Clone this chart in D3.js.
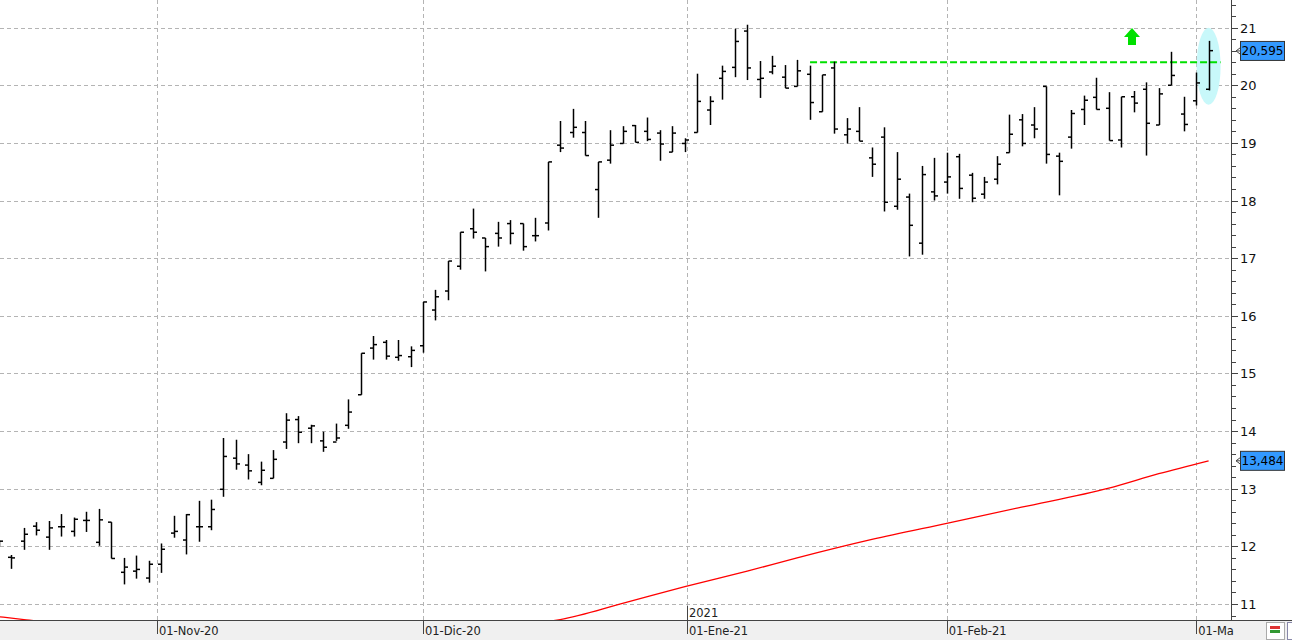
<!DOCTYPE html>
<html><head><meta charset="utf-8">
<script src="https://cdn.jsdelivr.net/npm/d3@7"></script>
<style>body{margin:0;background:#fff}svg{display:block;font-family:"DejaVu Sans",sans-serif}</style>
</head><body><svg id="c" width="1292" height="640"></svg>
<script>
const opens=[12.09,11.81,12.09,12.35,12.16,12.34,12.26,12.45,12.07,12.42,11.55,11.57,11.45,11.69,12.23,12.11,12.34,12.34,12.99,13.53,13.41,13.11,13.18,13.81,14.20,14.05,13.83,13.81,14.10,14.63,15.44,15.54,15.28,15.29,15.48,16.10,16.43,16.86,17.51,17.35,17.43,17.60,17.60,17.39,17.61,18.96,19.18,19.18,18.19,18.70,18.99,19.30,19.20,19.17,18.84,18.99,19.18,19.57,20.12,20.31,20.94,20.10,20.23,20.14,19.98,20.19,19.54,20.30,19.14,19.20,18.74,19.10,17.90,18.06,17.26,18.15,18.32,18.76,18.44,18.11,18.37,18.83,19.40,19.31,19.98,18.77,19.10,19.58,19.79,19.60,19.05,19.80,19.93,19.31,20.00,19.50,19.73,19.93];
const highs=[12.10,11.85,12.32,12.42,12.44,12.56,12.50,12.60,12.65,12.42,11.80,11.84,11.75,12.05,12.53,12.56,12.79,12.81,13.88,13.85,13.60,13.47,13.67,14.31,14.26,14.11,13.99,14.13,14.55,15.35,15.65,15.58,15.58,15.47,16.24,16.45,16.95,17.45,17.86,17.35,17.63,17.66,17.60,17.70,18.67,19.38,19.59,19.38,18.67,19.22,19.29,19.31,19.44,19.22,19.29,19.08,20.20,19.81,20.34,20.98,21.05,20.42,20.51,20.35,20.44,20.34,20.18,20.41,19.43,19.62,18.92,19.27,18.84,18.12,18.60,18.74,18.83,18.81,18.48,18.41,18.77,19.49,19.50,19.62,19.98,18.83,19.57,19.82,20.13,19.88,19.80,19.90,20.05,19.95,20.58,19.80,20.22,20.77];
const lows=[12.00,11.61,11.94,12.19,11.94,12.17,12.17,12.25,12.01,11.79,11.34,11.44,11.37,11.54,12.15,11.86,12.08,12.28,12.86,13.33,13.16,13.06,13.18,13.69,13.79,13.79,13.64,13.83,14.04,14.63,15.24,15.24,15.22,15.11,15.36,15.92,16.27,16.80,17.34,16.77,17.20,17.24,17.13,17.29,17.48,18.84,19.09,18.78,17.70,18.64,18.99,19.01,19.03,18.69,18.84,18.84,19.18,19.31,19.75,20.14,20.09,19.78,20.19,19.95,19.98,19.40,19.54,19.16,18.99,19.03,18.41,17.81,17.84,17.03,17.06,18.00,18.12,18.03,17.97,18.03,18.28,18.83,18.94,19.08,18.64,18.09,18.90,19.31,19.58,19.04,18.92,19.53,18.78,19.31,20.00,19.20,19.65,19.91];
const closes=[12.09,11.80,12.21,12.28,12.32,12.34,12.47,12.45,12.46,11.79,11.64,11.60,11.69,11.95,12.26,12.55,12.34,12.64,13.56,13.43,13.31,13.32,13.51,14.19,13.98,14.09,13.72,13.88,14.33,15.35,15.50,15.30,15.31,15.40,16.24,16.33,16.95,17.45,17.45,17.20,17.35,17.43,17.20,17.39,18.67,18.91,19.27,18.78,18.67,18.96,19.20,19.01,19.06,18.98,19.17,19.05,19.72,19.72,20.24,20.76,20.30,20.12,20.33,19.95,20.25,19.70,20.18,19.24,19.24,19.03,18.63,17.97,18.37,17.57,18.45,18.08,18.41,18.21,18.04,18.32,18.63,19.15,18.99,19.24,18.80,18.68,19.51,19.74,19.58,19.04,19.80,19.69,19.34,19.85,20.17,19.32,20.04,20.60];
const maIdx=[0,2,5,10,20,30,40,45,50,55,60,64,70,76,82,89,93,97];
const maVal=[10.78,10.73,10.66,10.58,10.50,10.52,10.62,10.73,11.01,11.30,11.57,11.80,12.12,12.40,12.68,13.01,13.26,13.484];
const monthTicks=[{i:12.67,t:"01-Nov-20"},{i:34.0,t:"01-Dic-20"},{i:55.17,t:"01-Ene-21"},{i:76.0,t:"01-Feb-21"},{i:96.0,t:"01-Ma"}];
const yTicks=[11,12,13,14,15,16,17,18,19,20,21];
const resistance=20.40, lastClose=20.595, lastMA=13.484;

const svg=d3.select("#c");
const W=1231,H=620;
const x=d3.scaleLinear().domain([0,97]).range([-1,1208.6]);
const y=d3.scaleLinear().domain([11,21]).range([604,27.6]);
svg.append("defs").append("clipPath").attr("id","pc").append("rect").attr("width",W).attr("height",H);
svg.append("rect").attr("x",0).attr("y",H).attr("width",1292).attr("height",20).attr("fill","#f0f0f0");
const g=svg.append("g").attr("clip-path","url(#pc)");
g.selectAll(".hg").data(yTicks).join("line").attr("x1",0).attr("x2",W).attr("y1",d=>Math.round(y(d))+.5).attr("y2",d=>Math.round(y(d))+.5).attr("stroke","#b4b4b4").attr("stroke-dasharray","4,3");
g.selectAll(".vg").data(monthTicks).join("line").attr("y1",0).attr("y2",H).attr("x1",d=>Math.round(x(d.i))+.5).attr("x2",d=>Math.round(x(d.i))+.5).attr("stroke","#b4b4b4").attr("stroke-dasharray","4,3");
const ma=maIdx.map((d,k)=>[d,maVal[k]]);
g.append("path").datum(ma).attr("d",d3.line().x(d=>x(d[0])).y(d=>y(d[1])).curve(d3.curveMonotoneX)).attr("fill","none").attr("stroke","#ff0000").attr("stroke-width",1.3);
g.append("ellipse").attr("cx",x(97)).attr("cy",y(20.33)).attr("rx",12).attr("ry",38.5).attr("fill","#c8f8fa");
g.append("line").attr("x1",x(65)+0.5).attr("x2",x(97)+12).attr("y1",y(resistance)).attr("y2",y(resistance)).attr("stroke","#00e000").attr("stroke-width",2).attr("stroke-dasharray","7,3");
const idx=d3.range(opens.length);
const bars=g.append("g").attr("stroke","#000").attr("stroke-width",1.5);
idx.forEach(i=>{
  const cx=Math.round(x(i))+.5;
  bars.append("line").attr("x1",cx).attr("x2",cx).attr("y1",y(highs[i])).attr("y2",y(lows[i]));
  bars.append("line").attr("x1",cx-3.5).attr("x2",cx).attr("y1",y(opens[i])).attr("y2",y(opens[i]));
  bars.append("line").attr("x1",cx).attr("x2",cx+3.5).attr("y1",y(closes[i])).attr("y2",y(closes[i]));
});
const ax=1132,ay=y(20.82);
g.append("path").attr("d",`M${ax},${ay-10} L${ax+8},${ay-1} L${ax+4},${ay-1} L${ax+4},${ay+7} L${ax-4},${ay+7} L${ax-4},${ay-1} L${ax-8},${ay-1} Z`).attr("fill","#00e000");
svg.append("line").attr("x1",W+.5).attr("x2",W+.5).attr("y1",0).attr("y2",H).attr("stroke","#444");
svg.append("line").attr("x1",0).attr("x2",1292).attr("y1",H+.5).attr("y2",H+.5).attr("stroke","#444");
const minor=d3.range(10.8,21.41,0.2);
svg.selectAll(".mt").data(minor).join("line").attr("x1",W).attr("x2",W+5).attr("y1",d=>Math.round(y(d))+.5).attr("y2",d=>Math.round(y(d))+.5).attr("stroke","#444");
svg.selectAll(".Mt").data(yTicks).join("line").attr("x1",W).attr("x2",W+7).attr("y1",d=>Math.round(y(d))+.5).attr("y2",d=>Math.round(y(d))+.5).attr("stroke","#444");
svg.selectAll(".yl").data(yTicks).join("text").attr("x",1240).attr("y",d=>y(d)+5).text(d=>d).attr("font-size",13).attr("fill","#111");
svg.selectAll(".xt").data(monthTicks).join("line").attr("x1",d=>Math.round(x(d.i))+.5).attr("x2",d=>Math.round(x(d.i))+.5).attr("y1",H).attr("y2",H+14).attr("stroke","#444");
svg.selectAll(".xl").data(monthTicks).join("text").attr("x",d=>x(d.i)+2).attr("y",H+15).text(d=>d.t).attr("font-size",11.5).attr("fill","#222");
svg.append("line").attr("x1",Math.round(x(55.17))+.5).attr("x2",Math.round(x(55.17))+.5).attr("y1",H-14).attr("y2",H).attr("stroke","#444");
svg.append("text").attr("x",x(55.17)+2).attr("y",H-3).text("2021").attr("font-size",11.5).attr("fill","#222");
[[lastClose,"20,595"],[lastMA,"13,484"]].forEach(([v,t])=>{
  const yy=y(v);
  svg.append("rect").attr("x",1240.5).attr("y",yy-9.5).attr("width",44).attr("height",19).attr("fill","#3399ff").attr("stroke","#333");
  svg.append("text").attr("x",1262.5).attr("y",yy+4.5).attr("text-anchor","middle").text(t).attr("font-size",12).attr("fill","#000");
  svg.append("path").attr("d",`M${W+9},${yy-3} L${W+5},${yy} L${W+9},${yy+3} M${W+5},${yy} L${W+10},${yy}`).attr("stroke","#444").attr("fill","none");
});
svg.append("rect").attr("x",1266.5).attr("y",622.5).attr("width",18).attr("height",17).attr("fill","#fff").attr("stroke","#aaa");
svg.append("rect").attr("x",1270).attr("y",626).attr("width",10).attr("height",3).attr("fill","#d33");
svg.append("rect").attr("x",1270).attr("y",630).attr("width",10).attr("height",3).attr("fill","#393");
svg.append("rect").attr("x",1287.5).attr("y",622.5).attr("width",6).attr("height",17).attr("fill","#fff").attr("stroke","#88a");
</script></body></html>
